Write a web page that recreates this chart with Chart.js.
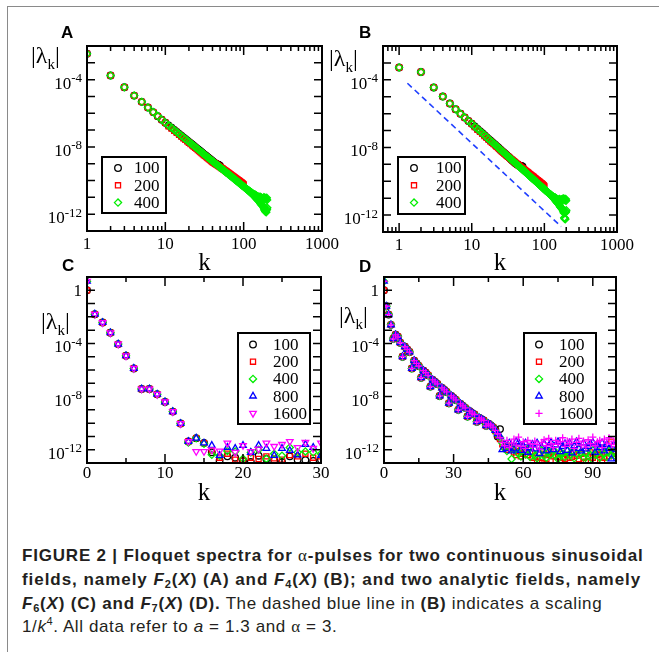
<!DOCTYPE html>
<html><head><meta charset="utf-8">
<title>Floquet spectra</title>
<script src="https://cdn.jsdelivr.net/npm/chart.js@4.4.1/dist/chart.umd.min.js"></script>
<style>
html,body{margin:0;padding:0;background:#fff;}
#fig{position:relative;width:659px;height:652px;overflow:hidden;background:#fff;}
#border{position:absolute;left:7px;top:6px;width:700px;height:700px;border-left:1.5px solid #8a8a8a;border-top:1.5px solid #8a8a8a;}
canvas{position:absolute;}
.lab{position:absolute;font-family:"Liberation Serif","Times New Roman",serif;font-size:24px;line-height:1;white-space:nowrap;color:#000;}
.lab sub{font-size:15px;vertical-align:baseline;position:relative;top:6px;}
.pl{position:absolute;font-family:"Liberation Sans",Arial,sans-serif;font-weight:bold;font-size:17px;line-height:1;color:#000;}
.cap{position:absolute;left:22px;font-family:"Liberation Sans Narrow","Liberation Sans",Arial,sans-serif;font-size:17px;line-height:20px;color:#231f20;white-space:nowrap;letter-spacing:0.6px;}
.cap b{letter-spacing:0.8px;}
.cap.l2 b{letter-spacing:0.95px;}
.cap sub{font-size:11px;vertical-align:-3px;line-height:0;}
.cap sup{font-size:11px;vertical-align:7px;line-height:0;}
.cap .g{font-family:"Liberation Serif",serif;font-weight:normal;}
</style></head>
<body>
<div id="fig">
<div id="border"></div>
<canvas id="cA" width="345" height="285" style="left:0;top:0"></canvas>
<canvas id="cB" width="329" height="285" style="left:330px;top:0"></canvas>
<canvas id="cC" width="345" height="250" style="left:0;top:262px"></canvas>
<canvas id="cD" width="329" height="250" style="left:330px;top:262px"></canvas>
<div class="pl" style="left:61px;top:24px">A</div>
<div class="pl" style="left:359px;top:24px">B</div>
<div class="pl" style="left:62px;top:257px">C</div>
<div class="pl" style="left:359px;top:258px">D</div>
<div class="lab" style="left:31px;top:43px">|λ<sub>k</sub>|</div>
<div class="lab" style="left:329px;top:46px">|λ<sub>k</sub>|</div>
<div class="lab" style="left:41px;top:309px">|λ<sub>k</sub>|</div>
<div class="lab" style="left:339px;top:303px">|λ<sub>k</sub>|</div>
<div class="cap" style="top:546px"><b>FIGURE 2 | Floquet spectra for <span class="g">α</span>-pulses for two continuous sinusoidal</b></div>
<div class="cap l2" style="top:570px"><b>fields, namely <i>F</i><sub>2</sub>(<i>X</i>) (A) and <i>F</i><sub>4</sub>(<i>X</i>) (B); and two analytic fields, namely</b></div>
<div class="cap" style="top:594px"><b><i>F</i><sub>6</sub>(<i>X</i>) (C) and <i>F</i><sub>7</sub>(<i>X</i>) (D).</b> The dashed blue line in <b>(B)</b> indicates a scaling</div>
<div class="cap" style="top:617px">1/<i>k</i><sup>4</sup>. All data refer to <i>a</i> = 1.3 and <span class="g">α</span> = 3.</div>
</div>
<script>
// ---------------- DATA (log10 |λk|) ----------------
const seriesAB = ['100', '200', '400'];
const seriesCD = ['100', '200', '400', '800', '1600'];

// Panel A: k = 1..N/2
const logA100 = [-2.46,-3.75,-4.45,-4.95,-5.32,-5.66,-5.93,-6.17,-6.38,-6.56,
-6.72,-6.86,-6.99,-7.11,-7.23,-7.34,-7.44,-7.53,-7.62,-7.70,
-7.78,-7.86,-7.93,-8.00,-8.07,-8.14,-8.20,-8.26,-8.32,-8.37,
-8.43,-8.48,-8.53,-8.58,-8.63,-8.67,-8.72,-8.76,-8.81,-8.85,
-8.89,-8.93,-8.97,-9.00,-9.02,-9.04,-9.06,-9.08,-9.10,-9.13];
const logA200 = [-2.46,-3.75,-4.45,-4.95,-5.32,-5.66,-5.93,-6.17,-6.38,-6.56,
-6.77,-6.91,-7.04,-7.16,-7.28,-7.39,-7.49,-7.58,-7.67,-7.75,
-7.83,-7.91,-7.98,-8.05,-8.12,-8.19,-8.25,-8.31,-8.37,-8.42,
-8.48,-8.53,-8.58,-8.63,-8.68,-8.72,-8.77,-8.81,-8.86,-8.90,
-8.93,-8.96,-8.99,-9.02,-9.05,-9.08,-9.11,-9.14,-9.17,-9.20,
-9.22,-9.25,-9.27,-9.30,-9.33,-9.35,-9.38,-9.41,-9.43,-9.46,
-9.48,-9.51,-9.53,-9.55,-9.58,-9.60,-9.62,-9.64,-9.67,-9.69,
-9.71,-9.73,-9.75,-9.77,-9.79,-9.81,-9.83,-9.85,-9.87,-9.89,
-9.91,-9.92,-9.94,-9.96,-9.98,-9.99,-10.01,-10.03,-10.05,-10.06,
-10.08,-10.10,-10.11,-10.13,-10.15,-10.16,-10.18,-10.20,-10.22,-10.25];
const logA400 = [-2.46,-3.75,-4.45,-4.95,-5.32,-5.66,-5.93,-6.17,-6.38,-6.56,
-6.72,-6.86,-6.99,-7.11,-7.23,-7.34,-7.44,-7.53,-7.62,-7.70,
-7.78,-7.86,-7.93,-8.00,-8.07,-8.14,-8.20,-8.26,-8.32,-8.37,
-8.43,-8.48,-8.53,-8.58,-8.63,-8.67,-8.72,-8.76,-8.81,-8.85,
-8.89,-8.93,-8.97,-9.00,-9.04,-9.08,-9.11,-9.15,-9.18,-9.22,
-9.25,-9.28,-9.31,-9.34,-9.37,-9.40,-9.43,-9.46,-9.49,-9.52,
-9.54,-9.57,-9.60,-9.62,-9.65,-9.67,-9.70,-9.72,-9.75,-9.77,
-9.79,-9.82,-9.84,-9.86,-9.89,-9.91,-9.93,-9.95,-9.97,-9.99,
-10.01,-10.03,-10.05,-10.07,-10.09,-10.11,-10.13,-10.15,-10.17,-10.19,
-10.20,-10.22,-10.24,-10.26,-10.28,-10.29,-10.31,-10.33,-10.34,-10.36,
-10.38,-10.39,-10.41,-10.42,-10.44,-10.46,-10.47,-10.49,-10.50,-10.52,
-10.53,-10.55,-10.56,-10.58,-10.59,-10.60,-10.62,-10.63,-10.65,-10.66,
-10.65,-10.71,-10.68,-10.74,-10.71,-10.77,-10.73,-10.80,-10.76,-10.83,
-10.78,-10.86,-10.80,-10.88,-10.82,-10.91,-10.84,-10.94,-10.86,-10.97,
-10.84,-11.02,-10.87,-11.05,-10.90,-11.08,-10.92,-11.10,-10.93,-11.14,
-10.95,-11.16,-10.96,-11.19,-10.98,-11.21,-11.00,-11.23,-11.01,-11.26,
-10.96,-11.32,-10.98,-11.36,-11.00,-11.40,-11.02,-11.42,-11.03,-11.45,
-11.05,-11.47,-11.06,-11.50,-11.08,-11.52,-11.10,-11.55,-11.11,-11.58,
-11.00,-11.65,-11.05,-11.72,-11.02,-11.78,-11.08,-11.80,-11.04,-11.85,
-11.10,-11.82,-11.06,-11.88,-11.12,-11.75,-11.03,-11.70,-11.15,-11.62];

// Panel B: k = 1..N/2
const logB100 = [-3.27,-3.54,-4.45,-4.99,-5.40,-5.74,-6.01,-6.23,-6.43,-6.60,
-6.76,-6.91,-7.04,-7.16,-7.28,-7.39,-7.50,-7.59,-7.68,-7.76,
-7.84,-7.92,-7.99,-8.07,-8.14,-8.21,-8.27,-8.33,-8.39,-8.44,
-8.50,-8.55,-8.60,-8.66,-8.71,-8.75,-8.80,-8.84,-8.89,-8.93,
-8.97,-9.00,-9.02,-9.04,-9.06,-9.08,-9.09,-9.10,-9.12,-9.13];
const logB200 = [-3.27,-3.54,-4.45,-4.99,-5.40,-5.74,-6.01,-6.23,-6.43,-6.60,
-6.80,-6.95,-7.08,-7.20,-7.32,-7.43,-7.54,-7.63,-7.72,-7.80,
-7.88,-7.96,-8.03,-8.10,-8.17,-8.24,-8.30,-8.36,-8.41,-8.46,
-8.51,-8.56,-8.61,-8.66,-8.70,-8.74,-8.78,-8.82,-8.86,-8.90,
-8.94,-8.98,-9.01,-9.05,-9.08,-9.12,-9.15,-9.18,-9.21,-9.24,
-9.26,-9.29,-9.32,-9.35,-9.37,-9.40,-9.43,-9.45,-9.48,-9.50,
-9.53,-9.55,-9.58,-9.60,-9.62,-9.65,-9.67,-9.69,-9.71,-9.73,
-9.75,-9.78,-9.80,-9.82,-9.84,-9.86,-9.88,-9.90,-9.92,-9.93,
-9.95,-9.97,-9.99,-10.01,-10.03,-10.04,-10.06,-10.08,-10.10,-10.11,
-10.13,-10.15,-10.16,-10.18,-10.20,-10.21,-10.23,-10.25,-10.27,-10.31];
const logB400 = [-3.27,-3.54,-4.45,-4.99,-5.40,-5.74,-6.01,-6.23,-6.43,-6.60,
-6.76,-6.91,-7.04,-7.16,-7.28,-7.39,-7.50,-7.59,-7.68,-7.76,
-7.84,-7.92,-7.99,-8.07,-8.14,-8.21,-8.27,-8.33,-8.39,-8.44,
-8.50,-8.55,-8.60,-8.66,-8.71,-8.75,-8.80,-8.84,-8.89,-8.93,
-8.97,-9.01,-9.05,-9.09,-9.13,-9.17,-9.20,-9.24,-9.27,-9.31,
-9.34,-9.37,-9.40,-9.43,-9.46,-9.49,-9.52,-9.55,-9.58,-9.61,
-9.64,-9.67,-9.70,-9.72,-9.75,-9.77,-9.80,-9.82,-9.85,-9.87,
-9.89,-9.92,-9.94,-9.96,-9.99,-10.01,-10.03,-10.05,-10.07,-10.09,
-10.11,-10.13,-10.15,-10.17,-10.19,-10.21,-10.24,-10.26,-10.28,-10.30,
-10.31,-10.33,-10.35,-10.37,-10.39,-10.40,-10.42,-10.44,-10.45,-10.47,
-10.50,-10.51,-10.53,-10.54,-10.56,-10.58,-10.59,-10.61,-10.62,-10.64,
-10.65,-10.67,-10.68,-10.70,-10.71,-10.72,-10.74,-10.75,-10.77,-10.78,
-10.77,-10.83,-10.80,-10.86,-10.83,-10.89,-10.85,-10.92,-10.88,-10.95,
-10.90,-10.98,-10.92,-11.00,-10.94,-11.03,-10.96,-11.06,-10.98,-11.09,
-10.96,-11.14,-10.99,-11.17,-11.02,-11.20,-11.04,-11.22,-11.05,-11.26,
-11.07,-11.28,-11.08,-11.31,-11.10,-11.33,-11.12,-11.35,-11.13,-11.38,
-11.05,-11.44,-11.08,-11.48,-11.10,-11.52,-11.12,-11.54,-11.13,-11.57,
-11.10,-11.59,-11.08,-11.62,-11.12,-11.64,-11.06,-11.67,-11.10,-11.70,
-11.02,-11.76,-11.06,-11.82,-11.04,-11.88,-11.08,-12.15,-11.05,-12.22,
-11.10,-12.18,-11.06,-12.25,-11.12,-11.85,-11.05,-11.80,-11.15,-11.72];
// dashed 1/k^4 guide line in B (two end points: k, |λ|)
const guideK = [1.3, 170];
const guideVal = [6.3e-5, 2.1e-13];

// Panel C: k = 0..30
const logC100 = [0,-1.80,-2.43,-3.20,-4.05,-4.93,-5.88,-7.43,-7.43,-7.83,-8.40,-9.13,-10.03,
-11.38,-11.13,-11.50,-12.20,-12.83,-12.50,-12.60,-12.85,-12.93,-12.45,-12.70,-12.80,-12.93,-12.50,-12.75,-12.78,-12.85,-12.75];
const logC200 = [0,-1.80,-2.43,-3.20,-4.05,-4.93,-5.88,-7.43,-7.43,-7.83,-8.40,-9.13,-10.03,
-11.38,-11.13,-11.50,-12.06,-12.60,-12.30,-12.75,-12.80,-12.60,-12.70,-12.50,-12.65,-12.75,-12.40,-12.50,-12.30,-12.60,-12.50];
const logC400 = [0.68,-1.80,-2.43,-3.20,-4.05,-4.93,-5.88,-7.43,-7.43,-7.83,-8.40,-9.13,-10.03,
-11.45,-11.13,-11.55,-12.38,-12.43,-12.10,-12.13,-12.68,-12.20,-12.00,-12.68,-12.30,-12.45,-11.83,-12.20,-12.13,-12.20,-12.30];
const logC800 = [0.68,-1.80,-2.43,-3.20,-4.05,-4.93,-5.88,-7.43,-7.43,-7.83,-8.40,-9.13,-10.03,
-11.38,-11.13,-11.50,-11.68,-12.43,-11.83,-11.90,-11.68,-12.20,-11.68,-11.90,-12.43,-11.90,-12.06,-12.40,-11.60,-11.83,-12.43];
const logC1600 = [0.68,-1.80,-2.43,-3.20,-4.05,-4.93,-5.88,-7.43,-7.43,-7.83,-8.40,-9.13,-10.03,
-11.38,-12.13,-12.13,-12.00,-12.10,-11.50,-12.20,-11.68,-12.13,-11.95,-11.50,-11.75,-11.60,-11.38,-11.83,-11.45,-11.90,-11.50];

// Panel D: k = 0..min(N/2,100)
const logD100 = [0,
-1.20,-1.83,-2.60,-3.65,-3.35,-3.50,-3.95,-5.00,-4.25,-4.45,
-4.65,-5.88,-5.30,-5.50,-5.70,-6.58,-6.05,-6.20,-6.40,-7.25,
-6.75,-6.90,-7.05,-7.95,-7.35,-7.50,-7.65,-8.50,-7.95,-8.10,
-8.25,-9.00,-8.55,-8.70,-8.85,-9.50,-9.10,-9.25,-9.35,-9.90,
-9.60,-9.70,-9.80,-10.20,-10.05,-10.15,-10.30,-10.50,-11.00,-10.45];
const logD200 = [0,
-1.20,-1.83,-2.60,-3.65,-3.35,-3.50,-3.95,-5.00,-4.25,-4.45,
-4.65,-5.88,-5.30,-5.50,-5.70,-6.58,-6.05,-6.20,-6.40,-7.25,
-6.75,-6.90,-7.05,-7.95,-7.35,-7.50,-7.65,-8.50,-7.95,-8.10,
-8.25,-9.00,-8.55,-8.70,-8.85,-9.50,-9.10,-9.25,-9.35,-9.90,
-9.60,-9.70,-9.80,-10.20,-10.05,-10.15,-10.30,
-10.60,-10.90,-11.20,-11.60,-11.80,-12.00,-11.70,-11.90,-12.20,-12.40,
-12.10,-12.50,-12.30,-12.00,-12.40,-12.20,-12.60,-12.50,-12.90,-12.95,
-12.60,-12.30,-12.70,-12.40,-12.20,-12.50,-12.80,-12.55,-12.30,-12.60,
-12.70,-12.40,-12.60,-12.55,-12.20,-12.45,-12.70,-12.30,-12.60,-12.90,
-12.50,-12.20,-12.60,-12.80,-12.40,-12.30,-12.90,-12.60,-12.20,-12.50,
-11.40,-12.10,-12.30];
const logD400 = [0.68,
-1.20,-1.83,-2.60,-3.65,-3.35,-3.50,-3.95,-5.00,-4.25,-4.45,
-4.65,-5.88,-5.30,-5.50,-5.70,-6.58,-6.05,-6.20,-6.40,-7.25,
-6.75,-6.90,-7.05,-7.95,-7.35,-7.50,-7.65,-8.50,-7.95,-8.10,
-8.25,-9.00,-8.55,-8.70,-8.85,-9.50,-9.10,-9.25,-9.35,-9.90,
-9.60,-9.70,-9.80,-10.20,-10.05,-10.15,-10.30,
-10.60,-10.85,-11.10,-11.50,-11.90,-12.10,-11.80,-12.70,-12.00,-11.90,
-12.30,-12.50,-12.10,-12.35,-11.95,-12.55,-12.20,-12.45,-12.65,-12.25,
-12.05,-12.45,-12.60,-12.15,-12.35,-12.00,-12.45,-12.70,-12.20,-12.30,
-12.55,-12.05,-12.40,-12.15,-12.65,-12.30,-11.95,-12.25,-12.55,-12.30,
-12.95,-12.40,-12.05,-12.35,-12.20,-12.60,-11.95,-12.30,-12.55,-12.10,
-12.40,-12.20,-12.50];
const logD800 = [0.68,
-1.20,-1.83,-2.60,-3.65,-3.35,-3.50,-3.95,-5.00,-4.25,-4.45,
-4.65,-5.88,-5.30,-5.50,-5.70,-6.58,-6.05,-6.20,-6.40,-7.25,
-6.75,-6.90,-7.05,-7.95,-7.35,-7.50,-7.65,-8.50,-7.95,-8.10,
-8.25,-9.00,-8.55,-8.70,-8.85,-9.50,-9.10,-9.25,-9.35,-9.90,
-9.60,-9.70,-9.80,-10.20,-10.05,-10.15,-10.30,
-10.55,-10.80,-11.00,-12.00,-11.60,-11.90,-11.50,-12.10,-11.95,-11.40,
-11.45,-12.05,-11.70,-11.50,-12.20,-11.85,-11.60,-11.95,-11.50,-12.30,
-11.80,-11.55,-12.10,-11.70,-11.45,-12.00,-11.65,-11.40,-12.15,-11.75,
-11.55,-12.05,-11.50,-12.25,-11.70,-11.40,-11.90,-12.10,-11.50,-11.95,
-11.75,-11.55,-11.45,-12.20,-11.65,-11.85,-11.50,-12.10,-11.60,-11.90,
-12.70,-11.65,-12.00];
const logD1600 = [0.68,
-1.20,-1.83,-2.60,-3.65,-3.35,-3.50,-3.95,-5.00,-4.25,-4.45,
-4.65,-5.88,-5.30,-5.50,-5.70,-6.58,-6.05,-6.20,-6.40,-7.25,
-6.75,-6.90,-7.05,-7.95,-7.35,-7.50,-7.65,-8.50,-7.95,-8.10,
-8.25,-9.00,-8.55,-8.70,-8.85,-9.50,-9.10,-9.25,-9.35,-9.90,
-9.60,-9.70,-9.80,-10.20,-10.05,-10.15,-10.30,
-10.55,-10.80,-11.10,-11.45,-11.70,-11.30,-11.85,-11.50,-11.20,-11.65,
-11.05,-11.75,-11.40,-11.90,-11.30,-11.55,-11.80,-11.35,-11.60,-11.95,
-11.45,-11.25,-11.70,-11.15,-11.55,-11.85,-11.30,-11.60,-11.40,-11.10,
-11.75,-11.35,-11.55,-11.20,-11.90,-11.45,-11.15,-11.65,-11.35,-11.80,
-11.25,-11.55,-11.05,-11.70,-11.40,-11.30,-11.85,-11.20,-11.50,-11.10,
-11.60,-11.35,-11.75];

// tick labels
const xTicksAB = [1, 10, 100, 1000];
const xLabelsAB = ['1', '10', '100', '1000'];
const yTicksAB = [1e-12, 1e-8, 1e-4];
const yLabelsAB = [['10', '-12'], ['10', '-8'], ['10', '-4']];
const xTicksC = [0, 10, 20, 30];
const xLabelsC = ['0', '10', '20', '30'];
const xTicksD = [0, 30, 60, 90];
const xLabelsD = ['0', '30', '60', '90'];
const yTicksCD = [1e-12, 1e-8, 1e-4, 1];
const yLabelsCD = [['10', '-12'], ['10', '-8'], ['10', '-4'], ['1', '']];

// ---------------- STYLES ----------------
const STY = {
  '100':  {color: '#000000', style: 'circle',   rot: 0,   radius: 3.3},
  '200':  {color: '#ff0000', style: 'rect',     rot: 0,   radius: 3.6},
  '400':  {color: '#00ee00', style: 'rectRot',  rot: 0,   radius: 3.6},
  '800':  {color: '#0000ff', style: 'triangle', rot: 0,   radius: 3.8},
  '1600': {color: '#ff00ff', style: 'triangle', rot: 180, radius: 3.8}
};
const STY_D1600 = {color: '#ff00ff', style: 'cross', rot: 0, radius: 3.6};

function decades(lo, hi) { const r = []; for (let e = lo; e <= hi; e++) r.push(Math.pow(10, e)); return r; }
function logMinor(lo, hi) { const r = []; for (let e = lo; e < hi; e++) for (let m = 2; m <= 9; m++) r.push(m * Math.pow(10, e)); return r; }

const MARKS = {
  cA: {xMaj: [1, 10, 100, 1000], xMin: logMinor(0, 3), yMaj: decades(-13, -2), yMin: []},
  cB: {xMaj: [1, 10, 100, 1000], xMin: [0.7, 0.8, 0.9].concat(logMinor(0, 3)), yMaj: decades(-13, -2), yMin: []},
  cC: {xMaj: [0, 10, 20, 30], xMin: [5, 15, 25], yMaj: decades(-13, 1), yMin: []},
  cD: {xMaj: [0, 30, 60, 90], xMin: [15, 45, 75], yMaj: decades(-13, 1), yMin: []}
};

const YL = {
  cA: {ticks: yTicksAB, labels: yLabelsAB},
  cB: {ticks: yTicksAB, labels: yLabelsAB},
  cC: {ticks: yTicksCD, labels: yLabelsCD},
  cD: {ticks: yTicksCD, labels: yLabelsCD}
};

const LEG = {
  cA: {x: 102, y: 157, w: 64, h: 56, mx: 16, tx: 32, r0: 11, dy: 17.3, items: seriesAB.map(s => Object.assign({label: s}, STY[s]))},
  cB: {x: 68, y: 157, w: 67, h: 57, mx: 16, tx: 38, r0: 11, dy: 17.3, items: seriesAB.map(s => Object.assign({label: s}, STY[s]))},
  cC: {x: 238, y: 71, w: 72, h: 91, mx: 15, tx: 35, r0: 11.5, dy: 17.2, items: seriesCD.map(s => Object.assign({label: s}, STY[s]))},
  cD: {x: 194, y: 71, w: 72, h: 91, mx: 15, tx: 35, r0: 11.5, dy: 17.2, items: seriesCD.map(s => Object.assign({label: s}, s === '1600' ? STY_D1600 : STY[s]))}
};

const frameTicks = {
  id: 'frameTicks',
  afterDatasetsDraw(chart) {
    const m = MARKS[chart.canvas.id]; if (!m) return;
    const ctx = chart.ctx, a = chart.chartArea, sx = chart.scales.x, sy = chart.scales.y;
    ctx.save();
    ctx.strokeStyle = '#000'; ctx.lineWidth = 1.5;
    ctx.beginPath();
    const addX = (vals, len) => vals.forEach(v => {
      const p = sx.getPixelForValue(v);
      if (p <= a.left + 1 || p >= a.right - 1) return;
      ctx.moveTo(p, a.bottom); ctx.lineTo(p, a.bottom - len);
      ctx.moveTo(p, a.top); ctx.lineTo(p, a.top + len);
    });
    const addY = (vals, len) => vals.forEach(v => {
      const p = sy.getPixelForValue(v);
      if (p <= a.top + 1 || p >= a.bottom - 1) return;
      ctx.moveTo(a.left, p); ctx.lineTo(a.left + len, p);
      ctx.moveTo(a.right, p); ctx.lineTo(a.right - len, p);
    });
    addX(m.xMaj, 9); addX(m.xMin, 5); addY(m.yMaj, 8); addY(m.yMin, 5);
    ctx.stroke();
    ctx.lineWidth = 2;
    ctx.strokeRect(a.left, a.top, a.right - a.left, a.bottom - a.top);
    ctx.restore();
  }
};

// y tick labels "10" with a raised exponent, placed by the y scale
const yExpLabels = {
  id: 'yExpLabels',
  afterDraw(chart) {
    const o = YL[chart.canvas.id]; if (!o) return;
    const ctx = chart.ctx, sy = chart.scales.y, xr = chart.chartArea.left - 5;
    ctx.save();
    ctx.fillStyle = '#000'; ctx.textBaseline = 'alphabetic'; ctx.textAlign = 'left';
    o.ticks.forEach((v, i) => {
      const base = o.labels[i][0], exp = o.labels[i][1];
      const p = sy.getPixelForValue(v);
      ctx.font = '13px "Liberation Serif"';
      const ew = exp ? ctx.measureText(exp).width : 0;
      ctx.font = '17px "Liberation Serif"';
      const bw = ctx.measureText(base).width;
      if (exp) {
        ctx.fillText(base, xr - ew - bw, p + 9);
        ctx.font = '13px "Liberation Serif"';
        ctx.fillText(exp, xr - ew, p + 2.5);
      } else {
        ctx.fillText(base, xr - bw, p + 5.5);
      }
    });
    ctx.restore();
  }
};

const boxLegend = {
  id: 'boxLegend',
  afterDraw(chart) {
    const o = LEG[chart.canvas.id]; if (!o) return;
    const ctx = chart.ctx;
    ctx.save();
    ctx.fillStyle = '#fff';
    ctx.fillRect(o.x, o.y, o.w, o.h);
    ctx.lineWidth = 2; ctx.strokeStyle = '#000';
    ctx.strokeRect(o.x, o.y, o.w, o.h);
    o.items.forEach((it, i) => {
      const cy = o.y + o.r0 + i * o.dy;
      ctx.strokeStyle = it.color; ctx.fillStyle = 'rgba(0,0,0,0)'; ctx.lineWidth = 1.3;
      Chart.helpers.drawPoint(ctx, {pointStyle: it.style, rotation: it.rot, radius: it.radius, borderWidth: 1.3}, o.x + o.mx, cy);
      ctx.fillStyle = '#000';
      ctx.font = '17px "Liberation Serif"';
      ctx.textAlign = 'left'; ctx.textBaseline = 'middle';
      ctx.fillText(it.label, o.x + o.tx, cy + 1);
    });
    ctx.restore();
  }
};

function series(name, logs, k0, sty, order) {
  const s = sty || STY[name];
  return {
    label: name,
    data: logs.map((v, i) => ({x: k0 + i, y: Math.pow(10, v)})),
    borderColor: s.color, backgroundColor: 'rgba(0,0,0,0)',
    pointStyle: s.style, pointRotation: s.rot, pointRadius: s.radius, pointBorderWidth: 1.3,
    showLine: false, order: order
  };
}

function makeChart(id, o) {
  return new Chart(document.getElementById(id), {
    type: 'scatter',
    data: {datasets: o.datasets},
    options: {
      responsive: false, animation: false, devicePixelRatio: 1, events: [],
      layout: {padding: o.pad},
      plugins: {legend: {display: false}, tooltip: {enabled: false}},
      scales: {
        x: {
          type: o.xType, min: o.xMin, max: o.xMax, bounds: 'data', position: 'bottom',
          grid: {display: false, drawTicks: false, tickLength: 0}, border: {display: false},
          afterBuildTicks: s => { s.ticks = o.xTicks.map(v => ({value: v})); },
          afterFit: s => { s.height = o.xh; s.paddingLeft = 0; s.paddingRight = 0; },
          ticks: {autoSkip: false, maxRotation: 0, minRotation: 0, padding: o.xPad, color: '#000',
                  font: {family: 'Liberation Serif', size: 17}, callback: (v, i) => o.xLabels[i]},
          title: {display: true, text: 'k', color: '#000', font: {family: 'Liberation Serif', size: 25, lineHeight: 1.2},
                  padding: {top: 0, bottom: o.tPad}}
        },
        y: {
          type: 'logarithmic', min: o.yMin, max: o.yMax, bounds: 'data', position: 'left',
          grid: {display: false, drawTicks: false, tickLength: 0}, border: {display: false},
          afterBuildTicks: s => { s.ticks = o.yTicks.map(v => ({value: v})); },
          afterFit: s => { s.width = o.yw; s.paddingTop = 0; s.paddingBottom = 0; },
          ticks: {display: false}
        }
      }
    },
    plugins: [frameTicks, yExpLabels, boxLegend]
  });
}

// Panel A
makeChart('cA', {
  datasets: [series('100', logA100, 1, null, 3), series('200', logA200, 1, null, 2), series('400', logA400, 1, null, 1)],
  xType: 'logarithmic', xMin: 1, xMax: 1000, yMin: 1e-13, yMax: 1e-2,
  xTicks: xTicksAB, xLabels: xLabelsAB, yTicks: yTicksAB,
  pad: {left: 0, top: 46, right: 23, bottom: 0}, yw: 87, xh: 54, xPad: 3, tPad: 7
});
// Panel B
const guide = {
  type: 'line', label: '', data: guideK.map((k, i) => ({x: k, y: guideVal[i]})),
  borderColor: '#1f3fff', borderWidth: 1.6, borderDash: [6, 4], pointRadius: 0, showLine: true, fill: false, order: 9
};
makeChart('cB', {
  datasets: [series('100', logB100, 1, null, 3), series('200', logB200, 1, null, 2), series('400', logB400, 1, null, 1), guide],
  xType: 'logarithmic', xMin: 0.6, xMax: 1000, yMin: 1e-13, yMax: 1e-2,
  xTicks: xTicksAB, xLabels: xLabelsAB, yTicks: yTicksAB,
  pad: {left: 0, top: 46, right: 42, bottom: 0}, yw: 53, xh: 53, xPad: 3, tPad: 7
});
// Panel C
makeChart('cC', {
  datasets: [series('100', logC100, 0, null, 5), series('200', logC200, 0, null, 4), series('400', logC400, 0, null, 3),
             series('800', logC800, 0, null, 2), series('1600', logC1600, 0, null, 1)],
  xType: 'linear', xMin: 0, xMax: 30, yMin: 1e-13, yMax: 10,
  xTicks: xTicksC, xLabels: xLabelsC, yTicks: yTicksCD,
  pad: {left: 0, top: 15, right: 24, bottom: 0}, yw: 87, xh: 49, xPad: 0, tPad: 4
});
// Panel D
makeChart('cD', {
  datasets: [series('100', logD100, 0, null, 5), series('200', logD200, 0, null, 4), series('400', logD400, 0, null, 3),
             series('800', logD800, 0, null, 2), series('1600', logD1600, 0, STY_D1600, 1)],
  xType: 'linear', xMin: 0, xMax: 100, yMin: 1e-13, yMax: 10,
  xTicks: xTicksD, xLabels: xLabelsD, yTicks: yTicksCD,
  pad: {left: 0, top: 15, right: 43, bottom: 0}, yw: 54, xh: 49, xPad: 0, tPad: 4
});
</script>
</body></html>
